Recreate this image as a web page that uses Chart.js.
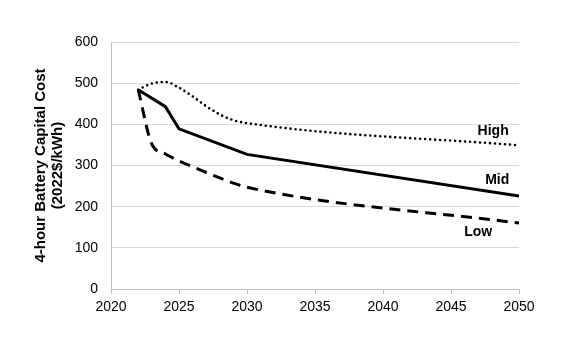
<!DOCTYPE html>
<html>
<head>
<meta charset="utf-8">
<script src="https://cdn.jsdelivr.net/npm/chart.js@4.4.1/dist/chart.umd.min.js"></script>
<style>
  html, body { margin: 0; padding: 0; background: #ffffff; }
  #wrap { width: 580px; height: 339px; position: relative; }
</style>
</head>
<body>
<div id="wrap"><canvas id="chart" width="580" height="339"></canvas></div>
<script>
// Projected 4-hour battery capital cost, 2022$/kWh
const highYears = [2022, 2023, 2024, 2025, 2026, 2027, 2028, 2029, 2030, 2050];
const highCost  = [484, 499, 503, 489, 468, 444, 424, 410, 403, 349];

const midYears  = [2022, 2024, 2025, 2030, 2050];
const midCost   = [484, 443, 389, 327, 226];

const lowYears  = [2022, 2023, 2024, 2025, 2026, 2027, 2028, 2029, 2030, 2050];
const lowCost   = [484, 352, 328, 311, 297, 283, 270, 257, 247, 160];

const seriesNames = ['High', 'Mid', 'Low'];
const yearTicks = [2020, 2025, 2030, 2035, 2040, 2045, 2050];
const costTicks = [0, 100, 200, 300, 400, 500, 600];

// where each series name sits, in data units
const nameAnchors = [
  { x: 2048.1, y: 383 },
  { x: 2048.4, y: 265 },
  { x: 2047.0, y: 137 }
];

const toPoints = (xs, ys) => xs.map((x, i) => ({ x: x, y: ys[i] }));

const FONT = "'Liberation Sans', Arial, Helvetica, sans-serif";

const seriesNamePlugin = {
  id: 'seriesNames',
  afterDatasetsDraw(chart) {
    const { ctx, scales } = chart;
    ctx.save();
    ctx.font = 'bold 14px ' + FONT;
    ctx.fillStyle = '#000000';
    ctx.textAlign = 'center';
    ctx.textBaseline = 'middle';
    seriesNames.forEach((name, i) => {
      const a = nameAnchors[i];
      ctx.fillText(name, scales.x.getPixelForValue(a.x), scales.y.getPixelForValue(a.y));
    });
    ctx.restore();
  }
};

new Chart(document.getElementById('chart'), {
  type: 'line',
  data: {
    datasets: [
      {
        label: seriesNames[0],
        data: toPoints(highYears, highCost),
        borderColor: '#000000',
        borderWidth: 2.6,
        borderDash: [0, 5],
        borderCapStyle: 'round',
        cubicInterpolationMode: 'monotone',
        pointRadius: 0,
        fill: false
      },
      {
        label: seriesNames[1],
        data: toPoints(midYears, midCost),
        borderColor: '#000000',
        borderWidth: 3,
        tension: 0,
        pointRadius: 0,
        fill: false
      },
      {
        label: seriesNames[2],
        data: toPoints(lowYears, lowCost),
        borderColor: '#000000',
        borderWidth: 3,
        borderDash: [11, 7],
        cubicInterpolationMode: 'monotone',
        pointRadius: 0,
        fill: false
      }
    ]
  },
  options: {
    responsive: false,
    animation: false,
    layout: { padding: { top: 42, right: 61, bottom: 0, left: 0 } },
    plugins: {
      legend: { display: false },
      tooltip: { enabled: false }
    },
    scales: {
      x: {
        type: 'linear',
        min: 2020,
        max: 2050,
        afterBuildTicks: (axis) => { axis.ticks = yearTicks.map(v => ({ value: v })); },
        afterFit: (axis) => { axis.height = 50; },
        grid: {
          drawOnChartArea: false,
          drawTicks: true,
          tickLength: 5,
          color: '#bfbfbf'
        },
        border: { color: '#bfbfbf', width: 1 },
        ticks: {
          color: '#000000',
          font: { family: FONT, size: 14 },
          padding: 5,
          maxRotation: 0,
          callback: (v) => String(v)
        }
      },
      y: {
        min: 0,
        max: 600,
        afterBuildTicks: (axis) => { axis.ticks = costTicks.map(v => ({ value: v })); },
        afterFit: (axis) => { axis.width = 111; },
        grid: {
          color: '#d9d9d9',
          lineWidth: 1,
          drawTicks: false
        },
        border: { color: '#bfbfbf', width: 1 },
        ticks: {
          color: '#000000',
          font: { family: FONT, size: 14 },
          padding: 13
        },
        title: {
          display: true,
          text: ['4-hour Battery Capital Cost', '(2022$/kWh)'],
          color: '#000000',
          font: { family: FONT, size: 15, weight: 'bold', lineHeight: 1.15 },
          padding: { top: 32, bottom: 0 }
        }
      }
    }
  },
  plugins: [seriesNamePlugin]
});
</script>
</body>
</html>
